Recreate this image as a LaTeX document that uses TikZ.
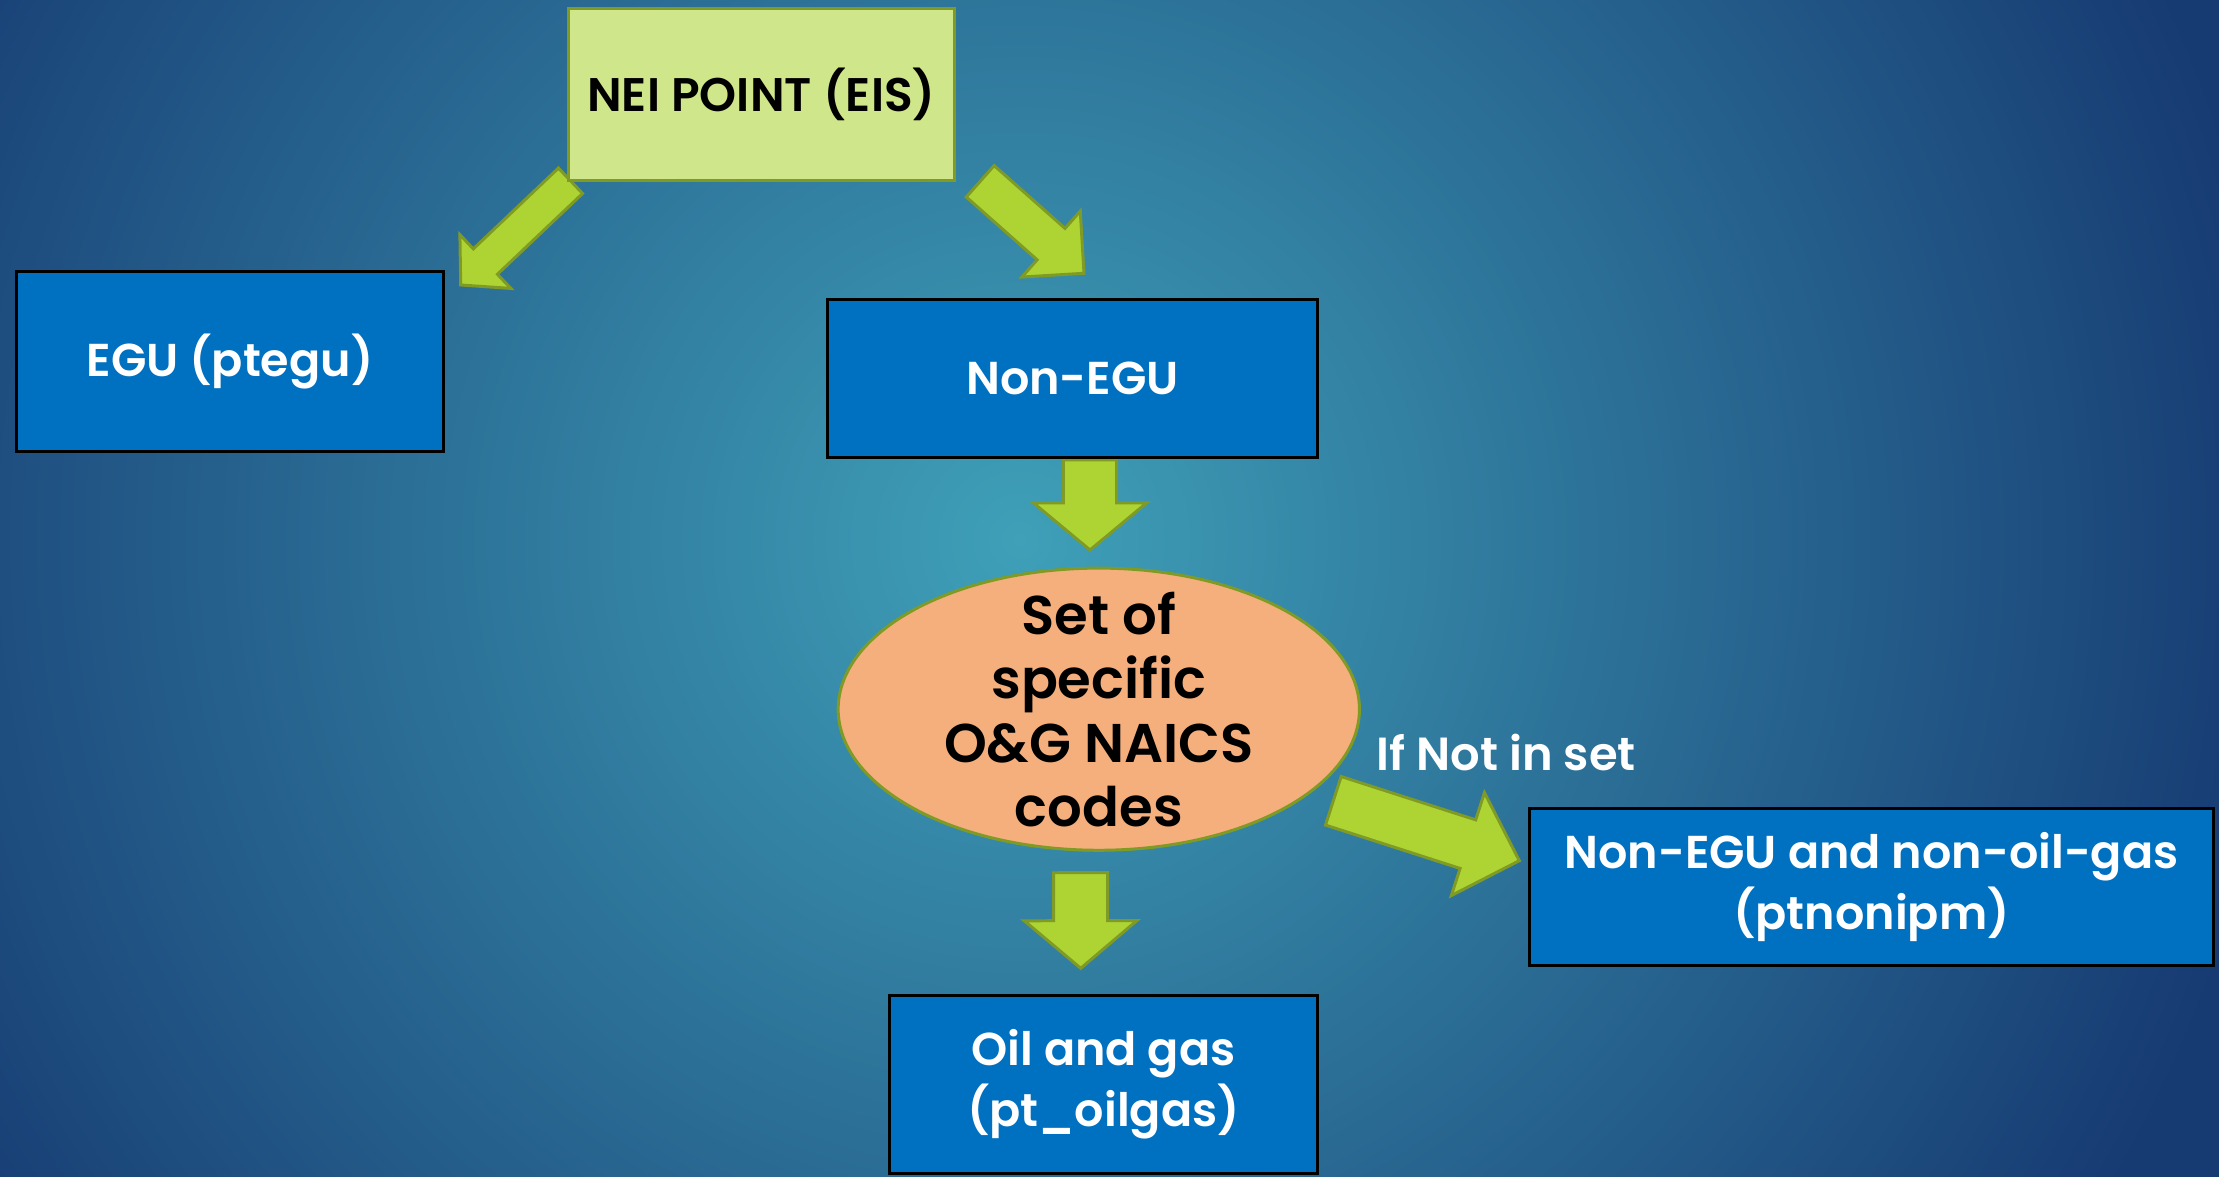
\documentclass[tikz,border=0pt]{standalone}
\usepackage{fontspec}
\setmainfont{Poppins}[BoldFont={Poppins SemiBold}]
\usetikzlibrary{calc,shapes.geometric}

\definecolor{bgin}{HTML}{3FA0B8}
\definecolor{bgout}{HTML}{163A72}
\definecolor{boxblue}{HTML}{0070C0}
\definecolor{leaf}{HTML}{ADD433}
\definecolor{olive}{HTML}{7F9B26}
\definecolor{pale}{HTML}{D0E68A}
\definecolor{salmon}{HTML}{F4AF7D}

\tikzset{
  bluebox/.style={rectangle, draw=black, line width=0.85pt, fill=boxblue, text=white,
    font=\fontsize{13.1}{17.4}\selectfont\bfseries, align=center, inner sep=0pt},
  topbox/.style={rectangle, draw=olive, line width=0.85pt, fill=pale,
    font=\fontsize{13.4}{17.4}\selectfont\bfseries, inner sep=0pt},
  codeset/.style={ellipse, draw=olive, line width=0.85pt, fill=salmon, inner sep=0pt},
  settext/.style={font=\fontsize{15.5}{18.2}\selectfont\bfseries, align=center, inner sep=0pt},
  greenarrow/.style={draw=olive, line width=0.85pt, fill=leaf},
  iflabel/.style={text=white, font=\fontsize{13.2}{16}\selectfont\bfseries, anchor=base, inner sep=0pt}
}

% #1 tail, #2 tip, #3 half shaft, #4 half head, #5 head length
\newcommand{\fatarrow}[5]{%
  \coordinate (neck) at ($(#2)!#5!(#1)$);
  \draw[greenarrow] ($(#1)!#3!-90:(#2)$) -- ($(neck)!#3!90:(#1)$) -- ($(neck)!#4!90:(#1)$)
    -- (#2) -- ($(neck)!#4!-90:(#1)$) -- ($(neck)!#3!-90:(#1)$) -- ($(#1)!#3!90:(#2)$) -- cycle;}

\begin{document}
\begin{tikzpicture}[line cap=round,x=0.01cm,y=-0.01cm]
\useasboundingbox (0,0) rectangle (2219,1177);
\begin{scope}
\clip (0,0) rectangle (2219,1177);
\fill[bgout] (0,0) rectangle (2219,1177);
\shade[inner color=bgin, outer color=bgout] (1020,540) circle (1280);
\end{scope}

\coordinate (a1s) at (570.5,180.8);
\coordinate (a1e) at (460.7,285);
\coordinate (a2s) at (980.2,181.3);
\coordinate (a2e) at (1084,273.3);
\coordinate (a3s) at (1090,460);
\coordinate (a3e) at (1090,550);
\coordinate (a4s) at (1333.3,800.8);
\coordinate (a4e) at (1519.3,860.7);
\coordinate (a5s) at (1080.5,872.7);
\coordinate (a5e) at (1080.7,968.3);

\fatarrow{a1s}{a1e}{0.175cm}{0.37cm}{0.34cm}
\fatarrow{a2s}{a2e}{0.21cm}{0.44cm}{0.44cm}
\fatarrow{a3s}{a3e}{0.267cm}{0.565cm}{0.47cm}
\fatarrow{a4s}{a4e}{0.255cm}{0.54cm}{0.54cm}
\fatarrow{a5s}{a5e}{0.27cm}{0.563cm}{0.476cm}

\node[topbox, minimum width=3.86cm, minimum height=1.72cm] (nei) at (761.5,94.5) {NEI POINT (EIS)};
\node[bluebox, minimum width=4.27cm, minimum height=1.80cm] (egu) at (230,361.5) {EGU (ptegu)};
\node[bluebox, minimum width=4.90cm, minimum height=1.57cm] (nonegu) at (1072.5,378.5) {Non-EGU};
\node[codeset, minimum width=5.21cm, minimum height=2.82cm] (sets) at (1098.8,709.2) {};
\node[settext] (setslist) at (sets.center) {Set of\\specific\\O\&G NAICS\\codes};
\node[bluebox, minimum width=6.84cm, minimum height=1.57cm] (nonoil) at (1871.5,887) {Non-EGU and non-oil-gas\\(ptnonipm)};
\node[bluebox, minimum width=4.28cm, minimum height=1.78cm] (oilgas) at (1103.5,1084.5) {Oil and gas\\(pt\_oilgas)};
\node[iflabel] (notin) at (1506,771) {If Not in set};
\end{tikzpicture}
\end{document}
